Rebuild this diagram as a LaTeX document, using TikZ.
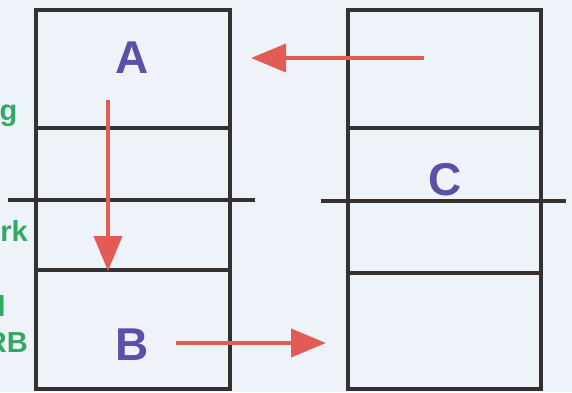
\documentclass[tikz,border=0pt]{standalone}
\usepackage{fontspec}
\setmainfont{Liberation Sans}
\usetikzlibrary{arrows.meta}
\definecolor{bg}{HTML}{EEF3F9}
\definecolor{ink}{HTML}{363131}
\definecolor{redarrow}{HTML}{E35B55}
\definecolor{letter}{HTML}{5A50A8}
\definecolor{greentext}{HTML}{33A862}
\tikzset{
  field/.style={draw=ink, line width=3.5pt, inner sep=0pt, fill=none},
  ln/.style={draw=ink, line width=3.5pt},
  movearrow/.style={draw=redarrow, line width=4pt, -{Triangle[length=35pt,width=28pt]}},
  bigletter/.style={text=letter, font=\bfseries\fontsize{46}{46}\selectfont, inner sep=0pt},
  sidetext/.style={text=greentext, font=\bfseries\fontsize{29}{29}\selectfont, inner sep=0pt, anchor=base east}
}
\begin{document}
\begin{tikzpicture}[x=1pt,y=-1pt]
\useasboundingbox (0,0) rectangle (572,392);
\fill[bg] (0,0) rectangle (572,392);
\clip (0,0) rectangle (572,392);
% side texts (word ends, cropped at the left edge as in the reference)
\node[sidetext] (t1) at (17.5,120) {g};
\node[sidetext] (t2) at (28,241) {rk};
\node[sidetext] (t3) at (6,316) {l};
\node[sidetext] (t4) at (28,352) {RB};
% fields
\node[field, minimum width=194pt, minimum height=379pt] (left) at (133,199.5) {};
\node[field, minimum width=193pt, minimum height=379pt] (right) at (444.5,199.5) {};
\draw[ln] (36,128) -- (230,128);
\draw[ln] (8,200) -- (255,200);
\draw[ln] (36,270) -- (230,270);
\draw[ln] (348,128) -- (541,128);
\draw[ln] (321,201) -- (566,201);
\draw[ln] (348,273) -- (541,273);
% letters
\node[bigletter] (A) at (132,58) {A};
\node[bigletter] (B) at (132,345) {B};
\node[bigletter] (C) at (445,180) {C};
% arrows
\coordinate (a1s) at (424,58);
\coordinate (a1e) at (251,58);
\coordinate (a2s) at (108,100);
\coordinate (a2e) at (108,271);
\coordinate (a3s) at (176,343);
\coordinate (a3e) at (326,343);
\draw[movearrow] (a1s) -- (a1e);
\draw[movearrow] (a2s) -- (a2e);
\draw[movearrow] (a3s) -- (a3e);
\end{tikzpicture}
\end{document}
